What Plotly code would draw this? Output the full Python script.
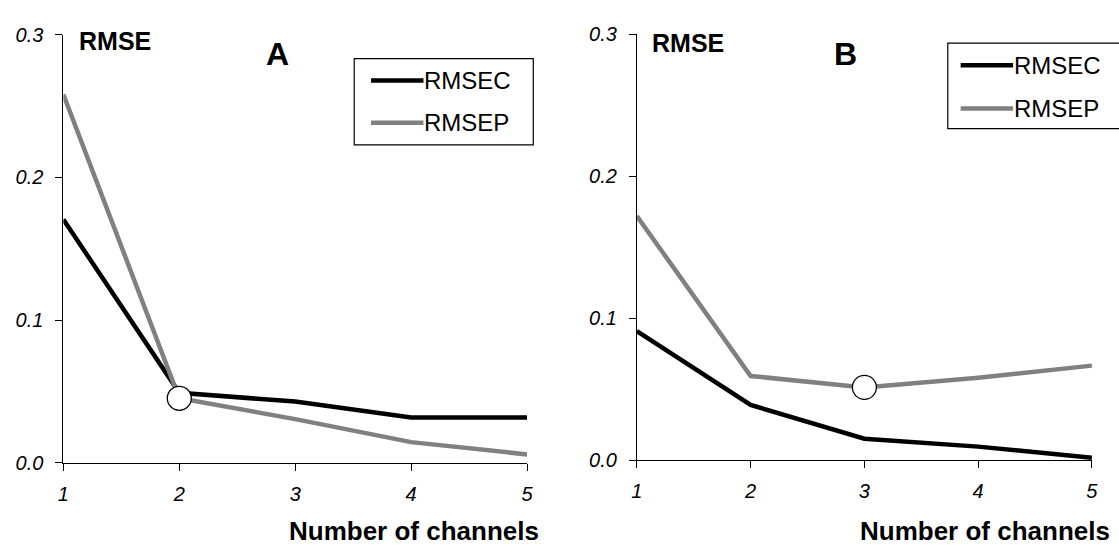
import plotly.graph_objects as go

# Number of channels and RMSE values for the two calibration sets
channels = [1, 2, 3, 4, 5]

rmsec_a = [0.1705, 0.0490, 0.0429, 0.0317, 0.0317]
rmsep_a = [0.2580, 0.0452, 0.0306, 0.0145, 0.0059]
best_a = 2  # optimal number of channels, panel A

rmsec_b = [0.0909, 0.0390, 0.0153, 0.0097, 0.0018]
rmsep_b = [0.1720, 0.0594, 0.0514, 0.0582, 0.0667]
best_b = 3  # optimal number of channels, panel B

y_ticks = [0.0, 0.1, 0.2, 0.3]
x_ticks = channels

W, H = 1119, 554
FONT = "Liberation Sans, Arial, sans-serif"
BLACK = "#000000"
GREY = "#808080"


def px(x):
    return x / W


def py(y):
    return 1 - y / H


fig = go.Figure()


def add_panel(xa, ya, rmsec, rmsep, best):
    fig.add_trace(go.Scatter(x=channels, y=rmsec, mode="lines", name="RMSEC",
                             line=dict(color=BLACK, width=4.5),
                             xaxis=xa, yaxis=ya, showlegend=False))
    fig.add_trace(go.Scatter(x=channels, y=rmsep, mode="lines", name="RMSEP",
                             line=dict(color=GREY, width=4.5),
                             xaxis=xa, yaxis=ya, showlegend=False))
    i = channels.index(best)
    fig.add_trace(go.Scatter(x=[best], y=[rmsep[i]], mode="markers",
                             marker=dict(size=24, color="white",
                                         line=dict(color=BLACK, width=1.3)),
                             xaxis=xa, yaxis=ya, showlegend=False,
                             cliponaxis=False))


add_panel("x", "y", rmsec_a, rmsep_a, best_a)
add_panel("x2", "y2", rmsec_b, rmsep_b, best_b)

tickfont = dict(family=FONT, size=20, color=BLACK, style="italic")
common_x = dict(range=[1, 5], tickvals=x_ticks, showline=True, linecolor=BLACK,
                linewidth=1, ticks="outside", ticklen=7, tickwidth=1,
                tickcolor=BLACK, showgrid=False, zeroline=False,
                tickfont=tickfont, ticklabelstandoff=6, fixedrange=True)
common_y = dict(range=[0, 0.3], tickvals=y_ticks, tickformat=".1f",
                showline=True, linecolor=BLACK, linewidth=1, ticks="outside",
                ticklen=7, tickwidth=1, tickcolor=BLACK, showgrid=False,
                zeroline=False, tickfont=tickfont, ticklabelstandoff=8,
                fixedrange=True)

fig.update_layout(
    width=W, height=H,
    margin=dict(l=0, r=0, t=0, b=0),
    paper_bgcolor="white", plot_bgcolor="white",
    showlegend=False,
    xaxis=dict(domain=[px(58), px(526.7)], anchor="y", **common_x),
    yaxis=dict(domain=[py(470.5), py(24.5)], anchor="x", **common_y),
    xaxis2=dict(domain=[px(637.7), px(1097.7)], anchor="y2", **common_x),
    yaxis2=dict(domain=[py(468), py(24)], anchor="x2", **common_y),
)

annotations = []
shapes = []


def text(x, y, s, size, bold=False, xanchor="left", xshift=0):
    annotations.append(dict(
        x=px(x), y=py(y), xref="paper", yref="paper",
        text=f"<b>{s}</b>" if bold else s,
        showarrow=False, xanchor=xanchor, yanchor="middle", xshift=xshift,
        font=dict(family=FONT, size=size, color=BLACK)))


# Panel titles and axis captions
text(72, 31, "RMSE", 25, bold=True)
text(274.5, 45, "A", 32, bold=True, xanchor="center")
text(541, 541, "Number of channels", 26, bold=True, xanchor="right")

text(651, 33, "RMSE", 25, bold=True)
text(849, 44.5, "B", 32, bold=True, xanchor="center")
text(1118, 541, "Number of channels", 26, bold=True, xanchor="right")


def legend_box(x0, y0, x1, y1, lx0, lx1, ty, rows):
    shapes.append(dict(type="rect", xref="paper", yref="paper",
                       x0=px(x0), x1=px(x1), y0=py(y1), y1=py(y0),
                       line=dict(color=BLACK, width=1.2), fillcolor="white",
                       layer="above"))
    for (label, color), yy in zip(rows, ty):
        shapes.append(dict(type="line", xref="paper", yref="paper",
                           x0=px(lx0), x1=px(lx1), y0=py(yy), y1=py(yy),
                           line=dict(color=color, width=4.5), layer="above"))
        text(lx1, yy, label, 24, xshift=-1)


rows = [("RMSEC", BLACK), ("RMSEP", GREY)]
legend_box(352, 49.5, 533, 139.5, 369, 422, [72.5, 116.5], rows)
legend_box(952, 33.5, 1130, 122.5, 965, 1018, [56.5, 101.5], rows)

fig.update_layout(annotations=annotations, shapes=shapes)

fig.write_html("out.html")
